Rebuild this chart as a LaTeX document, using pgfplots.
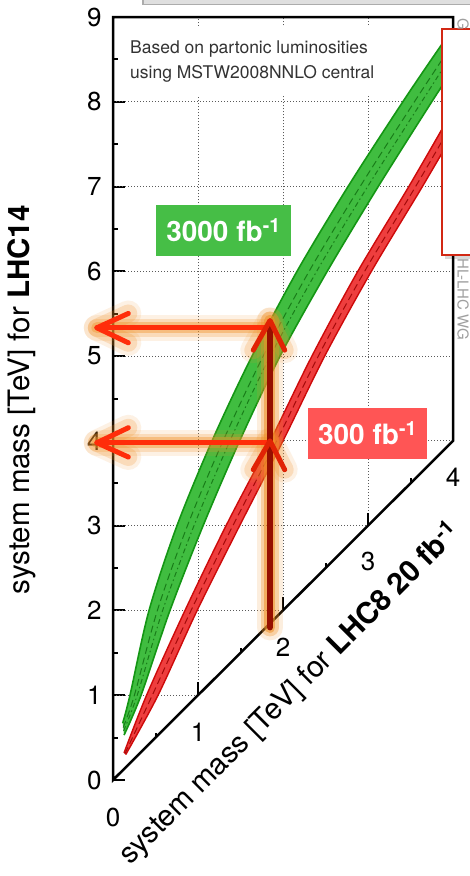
\documentclass[border=0pt]{standalone}
\usepackage{pgfplots}
\pgfplotsset{compat=1.18}
\usepackage{fontspec}
\setmainfont{TeX Gyre Heros}
\definecolor{gfill}{RGB}{64,189,64}
\definecolor{gedge}{RGB}{20,150,20}
\definecolor{gdash}{RGB}{25,125,25}
\definecolor{rfill}{RGB}{238,62,62}
\definecolor{redge}{RGB}{205,10,10}
\definecolor{rdash}{RGB}{165,10,10}
\definecolor{glbox}{RGB}{70,190,70}
\definecolor{rlbox}{RGB}{255,85,85}
\definecolor{glow}{RGB}{240,145,40}
\definecolor{arrh}{RGB}{255,45,10}
\definecolor{arrhd}{RGB}{225,35,5}
\definecolor{arrv}{RGB}{150,15,0}
\definecolor{gridc}{RGB}{90,90,90}
\definecolor{legred}{RGB}{210,40,20}
\tikzset{glw/.style={glow, line cap=round, line join=round}}
\begin{document}
\begin{tikzpicture}[x=1pt,y=1pt]
\useasboundingbox (0,0) rectangle (469,876);
\fill[white] (0,0) rectangle (469,876);
% top gray bar
\fill[gray!25] (142,871) rectangle (472,880);
\draw[gray!65, line width=1.5pt] (142.75,880) -- (142.75,871.5) -- (472,871.5);
\begin{axis}[
  at={(113pt,96pt)}, anchor=south west,
  scale only axis, width=340pt, height=763pt,
  xmin=0, xmax=4, ymin=0, ymax=9,
  clip=false,
  axis line style={draw=none},
  xtick=\empty,
  ytick={0,1,2,3,4,5,6,7,8,9},
  minor y tick num=1,
  ytick pos=left,
  tick align=inside,
  major tick length=12pt,
  minor tick length=5pt,
  every tick/.style={black, line width=2pt},
  yticklabel style={font=\fontsize{26}{30}\selectfont, xshift=-8pt},
  /pgf/number format/assume math mode=true,
]
% grid
\draw[gridc, line width=0.8pt, dash pattern=on 1pt off 2pt] (axis cs:0,1) -- (axis cs:1,1);
\draw[gridc, line width=0.8pt, dash pattern=on 1pt off 2pt] (axis cs:0,2) -- (axis cs:2,2);
\draw[gridc, line width=0.8pt, dash pattern=on 1pt off 2pt] (axis cs:0,3) -- (axis cs:3,3);
\draw[gridc, line width=0.8pt, dash pattern=on 1pt off 2pt] (axis cs:0,4) -- (axis cs:4,4);
\draw[gridc, line width=0.8pt, dash pattern=on 1pt off 2pt] (axis cs:0,5) -- (axis cs:4,5);
\draw[gridc, line width=0.8pt, dash pattern=on 1pt off 2pt] (axis cs:0,6) -- (axis cs:4,6);
\draw[gridc, line width=0.8pt, dash pattern=on 1pt off 2pt] (axis cs:0,7) -- (axis cs:4,7);
\draw[gridc, line width=0.8pt, dash pattern=on 1pt off 2pt] (axis cs:0,8) -- (axis cs:4,8);
\draw[gridc, line width=0.8pt, dash pattern=on 1pt off 2pt] (axis cs:1,1) -- (axis cs:1,9);
\draw[gridc, line width=0.8pt, dash pattern=on 1pt off 2pt] (axis cs:2,2) -- (axis cs:2,9);
\draw[gridc, line width=0.8pt, dash pattern=on 1pt off 2pt] (axis cs:3,3) -- (axis cs:3,9);
% frame
\draw[black, line width=2.5pt, line join=miter] (axis cs:4,4) -- (axis cs:4,9) -- (axis cs:0,9) -- (axis cs:0,0) -- cycle;
% ticks on diagonal
\draw[black, line width=2pt] (axis cs:1,1) -- ++(0pt,13pt);
\draw[black, line width=2pt] (axis cs:2,2) -- ++(0pt,13pt);
\draw[black, line width=2pt] (axis cs:3,3) -- ++(0pt,13pt);
\draw[black, line width=2pt] (axis cs:0.5,0.5) -- ++(0pt,5pt);
\draw[black, line width=2pt] (axis cs:1.5,1.5) -- ++(0pt,5pt);
\draw[black, line width=2pt] (axis cs:2.5,2.5) -- ++(0pt,5pt);
\draw[black, line width=2pt] (axis cs:3.5,3.5) -- ++(0pt,5pt);
\node[font=\fontsize{26}{30}\selectfont, yshift=-37pt] at (axis cs:0,0) {0};
\node[font=\fontsize{26}{30}\selectfont, yshift=-37pt] at (axis cs:1,1) {1};
\node[font=\fontsize{26}{30}\selectfont, yshift=-37pt] at (axis cs:2,2) {2};
\node[font=\fontsize{26}{30}\selectfont, yshift=-36pt] at (axis cs:3,3) {3};
\node[font=\fontsize{26}{30}\selectfont, yshift=-36pt] at (axis cs:4,4) {4};
% green band (3000 fb-1)
\addplot[fill=gfill, draw=none, smooth, tension=0.5] coordinates {
 (0.114,0.67) (0.20,1.0) (0.424,2.0) (0.753,3.0) (1.165,4.0) (1.635,5.0) (2.165,6.0) (2.765,7.0) (3.41,8.0) (3.85,8.65) (4.0,8.85)
 (4.0,8.38) (3.75,8.0) (3.12,7.0) (2.52,6.0) (1.965,5.0) (1.49,4.0) (1.06,3.0) (0.67,2.0) (0.33,1.0) (0.13,0.53)
} -- cycle;
\addplot[gedge, line width=1.6pt, smooth, tension=0.5] coordinates {
 (0.114,0.67) (0.20,1.0) (0.424,2.0) (0.753,3.0) (1.165,4.0) (1.635,5.0) (2.165,6.0) (2.765,7.0) (3.41,8.0) (3.85,8.65) (4.0,8.85)};
\addplot[gedge, line width=1.6pt, smooth, tension=0.5] coordinates {
 (0.13,0.53) (0.33,1.0) (0.67,2.0) (1.06,3.0) (1.49,4.0) (1.965,5.0) (2.52,6.0) (3.12,7.0) (3.75,8.0) (4.0,8.38)};
\addplot[gdash, line width=1pt, dash pattern=on 7pt off 4pt, smooth, tension=0.5] coordinates {
 (0.12,0.62) (0.252,1.0) (0.522,2.0) (0.876,3.0) (1.295,4.0) (1.767,5.0) (2.307,6.0) (2.907,7.0) (3.546,8.0) (3.94,8.6)};
\addplot[gdash, line width=1pt, dash pattern=on 5pt off 3pt on 1.5pt off 3pt, smooth, tension=0.5] coordinates {
 (0.125,0.58) (0.285,1.0) (0.584,2.0) (0.953,3.0) (1.376,4.0) (1.85,5.0) (2.396,6.0) (2.996,7.0) (3.631,8.0) (3.95,8.5)};
% red band (300 fb-1)
\addplot[fill=rfill, draw=none, smooth, tension=0.5] coordinates {
 (0.13,0.32) (0.395,1.0) (0.847,2.0) (1.33,3.0) (1.85,4.0) (2.34,5.0) (2.88,6.0) (3.48,7.0) (4.0,7.9)
 (4.0,7.62) (3.64,7.0) (3.04,6.0) (2.49,5.0) (2.0,4.0) (1.49,3.0) (0.99,2.0) (0.53,1.0) (0.15,0.30)
} -- cycle;
\addplot[redge, line width=1.4pt, smooth, tension=0.5] coordinates {
 (0.13,0.32) (0.395,1.0) (0.847,2.0) (1.33,3.0) (1.85,4.0) (2.34,5.0) (2.88,6.0) (3.48,7.0) (4.0,7.9)};
\addplot[redge, line width=1.4pt, smooth, tension=0.5] coordinates {
 (0.15,0.30) (0.53,1.0) (0.99,2.0) (1.49,3.0) (2.0,4.0) (2.49,5.0) (3.04,6.0) (3.64,7.0) (4.0,7.62)};
\addplot[rdash, line width=1pt, dash pattern=on 7pt off 4pt, smooth, tension=0.5] coordinates {
 (0.14,0.31) (0.4625,1.0) (0.9185,2.0) (1.41,3.0) (1.925,4.0) (2.415,5.0) (2.96,6.0) (3.56,7.0) (4.0,7.76)};
% arrows: glow (layered for a soft halo)
\draw[glw, opacity=0.12, line width=26pt] (axis cs:-0.19,5.334) -- (axis cs:1.847,5.334);
\draw[glw, opacity=0.12, line width=26pt] (axis cs:-0.19,3.978) -- (axis cs:1.847,3.978);
\draw[glw, opacity=0.12, line width=26pt] (axis cs:0.18,5.503) -- (axis cs:-0.19,5.334) -- (axis cs:0.18,5.157);
\draw[glw, opacity=0.12, line width=26pt] (axis cs:0.18,4.155) -- (axis cs:-0.19,3.978) -- (axis cs:0.18,3.81);
\draw[glw, opacity=0.15, line width=26pt] (axis cs:1.847,1.80) -- (axis cs:1.847,5.42);
\draw[glw, opacity=0.12, line width=26pt] (axis cs:1.65,5.07) -- (axis cs:1.847,5.42) -- (axis cs:2.02,5.07);
\draw[glw, opacity=0.12, line width=26pt] (axis cs:1.65,3.66) -- (axis cs:1.847,4.0) -- (axis cs:2.02,3.66);
\draw[glw, opacity=0.22, line width=18pt] (axis cs:-0.19,5.334) -- (axis cs:1.847,5.334);
\draw[glw, opacity=0.22, line width=18pt] (axis cs:-0.19,3.978) -- (axis cs:1.847,3.978);
\draw[glw, opacity=0.22, line width=18pt] (axis cs:0.18,5.503) -- (axis cs:-0.19,5.334) -- (axis cs:0.18,5.157);
\draw[glw, opacity=0.22, line width=18pt] (axis cs:0.18,4.155) -- (axis cs:-0.19,3.978) -- (axis cs:0.18,3.81);
\draw[glw, opacity=0.32, line width=18pt] (axis cs:1.847,1.80) -- (axis cs:1.847,5.42);
\draw[glw, opacity=0.22, line width=18pt] (axis cs:1.65,5.07) -- (axis cs:1.847,5.42) -- (axis cs:2.02,5.07);
\draw[glw, opacity=0.22, line width=18pt] (axis cs:1.65,3.66) -- (axis cs:1.847,4.0) -- (axis cs:2.02,3.66);
\draw[glw, opacity=0.4, line width=11pt] (axis cs:-0.19,5.334) -- (axis cs:1.847,5.334);
\draw[glw, opacity=0.4, line width=11pt] (axis cs:-0.19,3.978) -- (axis cs:1.847,3.978);
\draw[glw, opacity=0.55, line width=11pt] (axis cs:1.847,1.80) -- (axis cs:1.847,5.42);
% arrows: horizontal
\draw[arrh, line width=5pt, line cap=round] (axis cs:1.847,5.334) -- (axis cs:-0.19,5.334);
\draw[arrh, line width=5pt, line cap=round, line join=round] (axis cs:0.18,5.503) -- (axis cs:-0.19,5.334) -- (axis cs:0.18,5.157);
\draw[arrh, line width=5pt, line cap=round] (axis cs:1.847,3.978) -- (axis cs:-0.19,3.978);
\draw[arrh, line width=5pt, line cap=round, line join=round] (axis cs:0.18,4.155) -- (axis cs:-0.19,3.978) -- (axis cs:0.18,3.81);
% arrow: vertical
\draw[arrv, line width=6pt, line cap=round] (axis cs:1.847,1.80) -- (axis cs:1.847,5.40);
\draw[arrhd, line width=5pt, line cap=round, line join=round] (axis cs:1.65,5.07) -- (axis cs:1.847,5.42) -- (axis cs:2.02,5.07);
\draw[arrhd, line width=5pt, line cap=round, line join=round] (axis cs:1.65,3.66) -- (axis cs:1.847,4.0) -- (axis cs:2.02,3.66);
\end{axis}
% y label
\node[rotate=90, inner sep=0pt, font=\fontsize{29.5}{34}\selectfont] at (22,476) {system mass [TeV] for \textbf{LHC14}};
% x label
\node[rotate=45, inner sep=0pt, font=\fontsize{29.5}{34}\selectfont] at (290,182) {system mass [TeV] for \textbf{LHC8 20 fb\textsuperscript{-1}}};
% note box
\fill[white] (126,780) rectangle (388,850);
\node[anchor=base west, inner sep=0pt, text=black!80, font=\fontsize{17.5}{20}\selectfont] at (130,822.7) {Based on partonic luminosities};
\node[anchor=base west, inner sep=0pt, text=black!80, font=\fontsize{17.5}{20}\selectfont] at (130,797.7) {using MSTW2008NNLO central};
% luminosity labels
\node[fill=glbox, text=white, font=\bfseries\fontsize{28}{30}\selectfont, minimum width=135pt, minimum height=51pt, inner sep=0pt] at (223.5,645.5) {3000 fb\textsuperscript{-1}};
\node[fill=rlbox, text=white, font=\bfseries\fontsize{28}{30}\selectfont, minimum width=119pt, minimum height=51pt, inner sep=0pt] at (367.5,442.5) {300 fb\textsuperscript{-1}};
% legend box (cut)
\fill[black, opacity=0.15] (445,617) rectangle (485,844);
\filldraw[fill=white, draw=legred, line width=1.5pt] (442,621) rectangle (485,847);
% credit text
\node[rotate=-90, anchor=west, inner sep=0pt, text=gray!75, font=\fontsize{15}{18}\selectfont] at (463,618) {HL-LHC WG};
\node[rotate=-90, anchor=west, inner sep=0pt, text=gray!75, font=\fontsize{15}{18}\selectfont] at (463,858) {G};
\end{tikzpicture}
\end{document}
